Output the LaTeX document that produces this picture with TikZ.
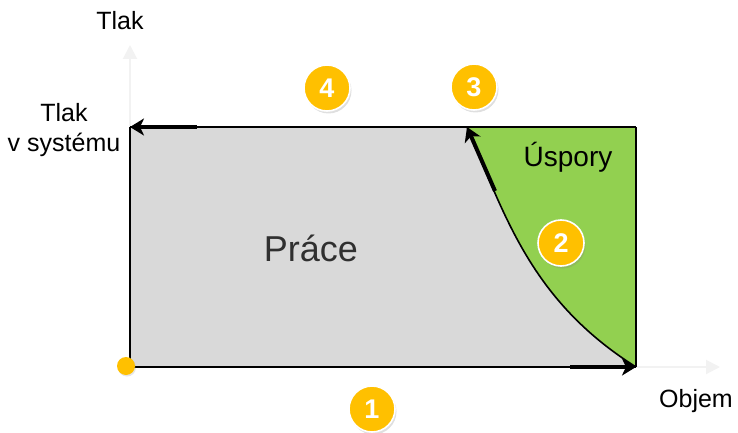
\documentclass[tikz,border=0pt]{standalone}
\usepackage{fontspec}
\setmainfont{Liberation Sans}
\usetikzlibrary{arrows.meta,shadows}
\definecolor{badge}{HTML}{FFC000}
\definecolor{workgray}{HTML}{D9D9D9}
\definecolor{savegreen}{HTML}{92D050}
\definecolor{axisgray}{HTML}{F2F2F2}
\definecolor{worktext}{HTML}{303030}
\tikzset{
  numbadge/.style={circle, fill=badge, draw=white, line width=1.6pt, minimum size=46pt, inner sep=0pt,
    text=white, font=\fontsize{27}{27}\selectfont\bfseries,
    drop shadow={shadow xshift=1.5pt, shadow yshift=-2.5pt, opacity=0.25}},
  lbl/.style={font=\fontsize{25}{30}\selectfont, text=black, inner sep=0pt},
  axisline/.style={draw=axisgray, line width=2pt, -{Triangle[length=14pt,width=14pt]}},
  thinedge/.style={draw=black, line width=1.5pt},
  flowarrow/.style={draw=black, line width=4pt, -{Stealth[length=14pt,width=17pt,inset=4pt]}}
}
\begin{document}
\begin{tikzpicture}[x=1pt,y=-1pt]
\useasboundingbox (0,0) rectangle (738,433);
% key points
\coordinate (O) at (130,367);
\coordinate (TL) at (130,127);
\coordinate (C3) at (467,127);
\coordinate (TR) at (636,127);
\coordinate (BR) at (636,367);
\coordinate (K1) at (505,215);
\coordinate (K2) at (530,300);
\coordinate (Ytip) at (130,45);
\coordinate (Xtip) at (720,367);
% axes
\draw[axisline] (O) -- (Ytip);
\draw[axisline] (BR) -- (Xtip);
% regions
\fill[workgray] (TL) -- (C3) .. controls (K1) and (K2) .. (BR) -- (O) -- cycle;
\fill[savegreen] (C3) -- (TR) -- (BR) .. controls (K2) and (K1) .. (C3) -- cycle;
% edges
\draw[thinedge] (O) -- (TL);
\draw[thinedge] (TR) -- (BR);
\draw[thinedge] (TL) -- (TR);
\draw[draw=black, line width=2.5pt] (O) -- (BR);
\draw[draw=black, line width=1.6pt] (C3) .. controls (K1) and (K2) .. (BR);
% flow arrows
\coordinate (A4s) at (197,127);
\coordinate (A1s) at (570,367);
\coordinate (A3s) at (495,191);
\draw[flowarrow] (A4s) -- (TL);
\draw[flowarrow] (A1s) -- (BR);
\draw[flowarrow] (A3s) -- (C3);
% start dot
\node[circle, fill=badge, minimum size=18pt, inner sep=0pt,
  drop shadow={shadow xshift=1pt, shadow yshift=-1.5pt, opacity=0.2}] (start) at (126,366) {};
% labels
\node[lbl] (ylab) at (120,21) {Tlak};
\node[lbl, align=center] (plab) at (64,130) {Tlak\\v systému};
\node[lbl] (xlab) at (696,401) {Objem};
\node[font=\fontsize{36}{36}\selectfont, text=worktext, inner sep=0pt] (work) at (311,248) {Práce};
\node[font=\fontsize{28}{28}\selectfont, inner sep=0pt] (save) at (568,157) {Úspory};
% badges
\node[numbadge] (n1) at (372,409) {1};
\node[numbadge] (n2) at (561,243) {2};
\node[numbadge] (n3) at (474,87) {3};
\node[numbadge] (n4) at (327,88) {4};
\end{tikzpicture}
\end{document}
